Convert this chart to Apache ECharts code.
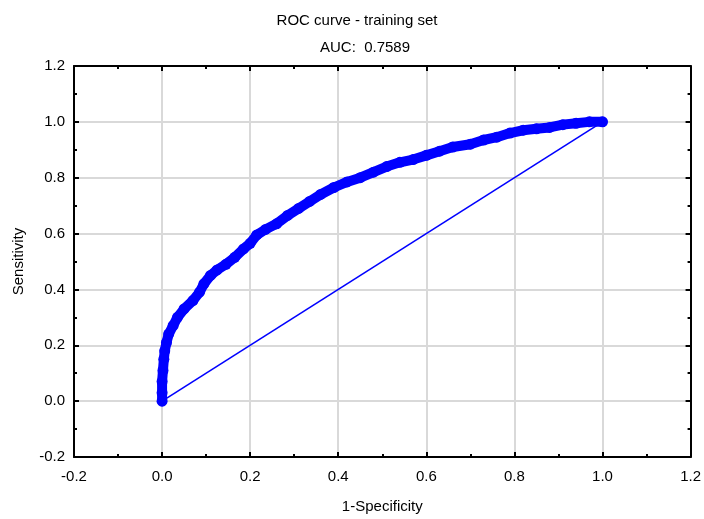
<!DOCTYPE html>
<html>
<head>
<meta charset="utf-8">
<script src="https://cdn.jsdelivr.net/npm/echarts@6/dist/echarts.min.js"></script>
<style>
  html, body { margin: 0; padding: 0; background: #fff; }
  #chart { width: 704px; height: 519px; }
</style>
</head>
<body>
<div id="chart"></div>
<script>
// ROC curve points: false positive rate (1-Specificity) and true positive rate (Sensitivity)
const fpr = [0.000, 0.000, 0.000, 0.002, 0.004, 0.006, 0.010, 0.015, 0.025, 0.035,
             0.050, 0.070, 0.085, 0.095, 0.110, 0.125, 0.145, 0.165, 0.185, 0.200,
             0.215, 0.235, 0.260, 0.285, 0.310, 0.335, 0.360, 0.390, 0.420, 0.450,
             0.480, 0.510, 0.540, 0.570, 0.600, 0.630, 0.660, 0.700, 0.730, 0.760,
             0.790, 0.820, 0.850, 0.880, 0.910, 0.940, 0.970, 1.000];
const tpr = [0.000, 0.030, 0.070, 0.110, 0.150, 0.180, 0.210, 0.240, 0.270, 0.300,
             0.330, 0.360, 0.390, 0.420, 0.450, 0.470, 0.490, 0.515, 0.545, 0.565,
             0.595, 0.615, 0.635, 0.665, 0.690, 0.715, 0.740, 0.765, 0.785, 0.800,
             0.820, 0.840, 0.855, 0.865, 0.880, 0.895, 0.910, 0.920, 0.935, 0.945,
             0.960, 0.970, 0.975, 0.980, 0.990, 0.995, 1.000, 1.000];
// Reference diagonal (random classifier)
const diagX = [0, 1];
const diagY = [0, 1];

const titleText = 'ROC curve - training set';
const aucText = 'AUC:  0.7589';
const xName = '1-Specificity';
const yName = 'Sensitivity';

const FONT = '"Liberation Sans", Arial, sans-serif';
const BLUE = '#0000ff';

const rocData = fpr.map((x, i) => [x, tpr[i]]);
const diagData = diagX.map((x, i) => [x, diagY[i]]);

const labelFmt = v => v.toFixed(1);

function axisBase(extra) {
  return Object.assign({
    type: 'value',
    min: -0.2,
    max: 1.2,
    interval: 0.2,
    axisLine: { show: true, onZero: false, lineStyle: { color: '#000', width: 2 } },
    axisTick: { show: true, inside: true, length: 5, lineStyle: { color: '#000', width: 2 } },
    minorTick: { show: true, splitNumber: 2, length: 3, lineStyle: { color: '#000', width: 2 } },
    splitLine: { show: false },
    axisLabel: { show: false }
  }, extra);
}

const chart = echarts.init(document.getElementById('chart'), null, { renderer: 'canvas' });

chart.setOption({
  animation: false,
  backgroundColor: '#fff',
  title: [
    { text: titleText, left: 352, top: 8, textAlign: 'center',
      textStyle: { fontFamily: FONT, fontSize: 15, fontWeight: 'normal', color: '#000' } },
    { text: aucText, left: 360, top: 35, textAlign: 'center',
      textStyle: { fontFamily: FONT, fontSize: 15, fontWeight: 'normal', color: '#000' } }
  ],
  grid: { left: 74, right: 12, top: 66, bottom: 55, containLabel: false },
  xAxis: [
    axisBase({
      position: 'bottom',
      name: xName,
      nameLocation: 'middle',
      nameGap: 42,
      nameTextStyle: { fontFamily: FONT, fontSize: 15, color: '#000' },
      axisLabel: { show: true, margin: 12, fontFamily: FONT, fontSize: 15, color: '#000', formatter: labelFmt },
      splitLine: { show: true, lineStyle: { color: '#d9d9d9', width: 2 } }
    }),
    axisBase({ position: 'top' })
  ],
  yAxis: [
    axisBase({
      position: 'left',
      name: yName,
      nameLocation: 'middle',
      nameGap: 48,
      nameRotate: 90,
      nameTextStyle: { fontFamily: FONT, fontSize: 15, color: '#000' },
      axisLabel: { show: true, margin: 9, fontFamily: FONT, fontSize: 15, color: '#000', formatter: labelFmt },
      splitLine: { show: true, lineStyle: { color: '#d9d9d9', width: 2 } }
    }),
    axisBase({ position: 'right' })
  ],
  series: [
    {
      type: 'line',
      data: diagData,
      symbol: 'none',
      lineStyle: { color: BLUE, width: 1.6 },
      z: 2
    },
    {
      type: 'line',
      data: rocData,
      symbol: 'circle',
      symbolSize: 11,
      showAllSymbol: true,
      itemStyle: { color: BLUE },
      lineStyle: { color: BLUE, width: 10, cap: 'round', join: 'round' },
      z: 3
    }
  ]
});
</script>
</body>
</html>
